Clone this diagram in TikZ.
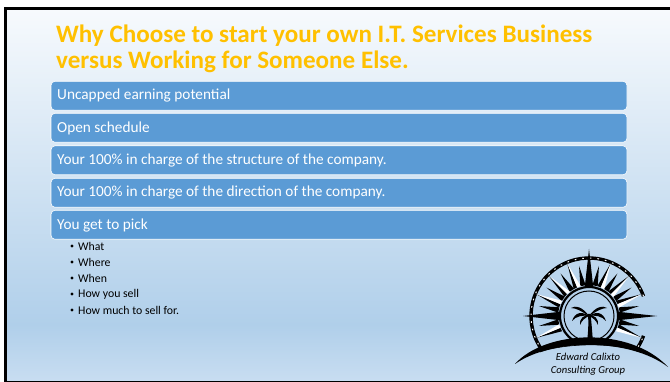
\documentclass[tikz,border=0pt]{standalone}
\usepackage{fontspec}
\setmainfont{Carlito}
\usetikzlibrary{calc}
\definecolor{barblue}{HTML}{5B9BD5}
\definecolor{gold}{HTML}{FFC000}
\definecolor{logobg}{HTML}{B4D1EB}
\tikzset{
 barbox/.style={fill=barblue,draw=white,line width=0.6pt,rounded corners=4pt,minimum width=576pt,minimum height=29pt,anchor=north west,inner sep=0pt},
 bartext/.style={text=white,font=\fontsize{15.3}{16}\selectfont,anchor=west,inner sep=0pt},
 subtext/.style={text=black,font=\fontsize{11.8}{12}\selectfont,anchor=west,inner sep=0pt},
 titletext/.style={text=gold,font=\fontsize{25.1}{27}\selectfont\bfseries,anchor=west,inner sep=0pt},
 logotext/.style={text=black,font=\fontsize{10.6}{12}\selectfont\itshape,inner sep=0pt}
}
\begin{document}
\begin{tikzpicture}[x=1pt,y=-1pt]
\useasboundingbox (0,0) rectangle (670,382);
\fill[white] (0,0) rectangle (670,382);
\shade[top color={rgb,255:red,247;green,250;blue,253},bottom color={rgb,255:red,176;green,207;blue,234}] (6,9) rectangle (670,325);
\shade[top color={rgb,255:red,176;green,207;blue,234},bottom color={rgb,255:red,200;green,221;blue,241}] (6,324.5) rectangle (670,381);
\fill[black] (4,7.5) rectangle (670,10);
\fill[black] (4,7.5) rectangle (7,382);
\fill[black] (4,380.6) rectangle (670,382);
\node[titletext] (t1) at (56,36) {Why Choose to start your own I.T. Services Business};
\node[titletext] (t2) at (56,61.5) {versus Working for Someone Else.};
\node[barbox] (b1) at (50.7,81) {};
\node[barbox] (b2) at (50.7,113) {};
\node[barbox] (b3) at (50.7,145.5) {};
\node[barbox] (b4) at (50.7,178) {};
\node[barbox] (b5) at (50.7,210) {};
\node[bartext] at (57,95.5) {Uncapped earning potential};
\node[bartext] at (57,128) {Open schedule};
\node[bartext] at (57,160.5) {Your 100\% in charge of the structure of the company.};
\node[bartext] at (57,193) {Your 100\% in charge of the direction of the company.};
\node[bartext] at (57,225.5) {You get to pick};
\foreach \yy/\tx in {246/What,262/Where,278/When,294/How you sell,310/How much to sell for.}{
 \fill[black] (72,\yy) circle (1.7);
 \node[subtext] at (78,\yy) {\tx};
}
% logo
\coordinate (c) at (589,316);
\begin{scope}
\clip (500,240) -- (670,240) -- (670,370) .. controls (630,330) and (545,330) .. (512,366) -- (500,366) -- cycle;
\begin{scope}[shift={(c)}]
 \draw[black,line width=3.4pt] (-20:58) arc[start angle=-20,end angle=-340,radius=58];
 \draw[white,line width=1pt,dash pattern=on 1.6pt off 6pt] (-20:58) arc[start angle=-20,end angle=-340,radius=58];
 \foreach \a in {11.25,33.75,56.25,78.75,101.25,123.75,146.25,168.75,191.25,348.75}{
  \fill[black] ({-\a}:51) -- ({-\a+5}:31) -- ({-\a-5}:31) -- cycle;
 }
 \foreach \a in {22.5,45,67.5,112.5,135,157.5,202.5,337.5}{
  \fill[black] ({-\a}:57) -- ({-\a-7}:31) -- ({-\a}:31) -- cycle;
  \fill[white] ({-\a}:57) -- ({-\a+7}:31) -- ({-\a}:31) -- cycle;
 }
 \foreach \a/\r in {0/68,90/67,180/66}{
  \fill[black] ({-\a}:\r) -- ({-\a-9}:28) -- ({-\a+9}:28) -- cycle;
 }
 \fill[logobg] (0,0) circle (29.5);
 \draw[black,line width=2.2pt] (0,0) circle (29);
 \draw[black,line width=1pt] (0,0) circle (25);
 \fill[black] (-2,26) .. controls (-0.5,14) and (-0.5,6) .. (-1,-2) -- (1.5,-2) .. controls (2.5,6) and (3,14) .. (4,26) -- cycle;
 \fill[black] (0,0) .. controls (-6,-9) and (-14,-11) .. (-18,-8) .. controls (-13,-8) and (-8,-5) .. (0,0) -- cycle;
 \fill[black] (0,0) .. controls (-7,-5) and (-14,-4) .. (-17,5) .. controls (-13,0) and (-6,-1) .. (0,0) -- cycle;
 \fill[black] (0,0) .. controls (-5,-2) and (-10,3) .. (-9,9) .. controls (-7,4) and (-4,2) .. (0,0) -- cycle;
 \fill[black] (0,0) .. controls (6,-9) and (14,-11) .. (18,-8) .. controls (13,-8) and (8,-5) .. (0,0) -- cycle;
 \fill[black] (0,0) .. controls (7,-5) and (14,-4) .. (17,5) .. controls (13,0) and (6,-1) .. (0,0) -- cycle;
 \fill[black] (0,0) .. controls (5,-2) and (10,3) .. (9,9) .. controls (7,4) and (4,2) .. (0,0) -- cycle;
\end{scope}
\end{scope}
\fill[black] (515,364) .. controls (545,330) and (630,326) .. (668,367) .. controls (630,338) and (552,338) .. (515,364) -- cycle;
\draw[black,line width=0.6pt] (540,352) .. controls (565,343) and (615,342) .. (640,352);
\node[logotext] (l1) at (588,357) {Edward Calixto};
\node[logotext] (l2) at (588,371) {Consulting Group};
\end{tikzpicture}
\end{document}
